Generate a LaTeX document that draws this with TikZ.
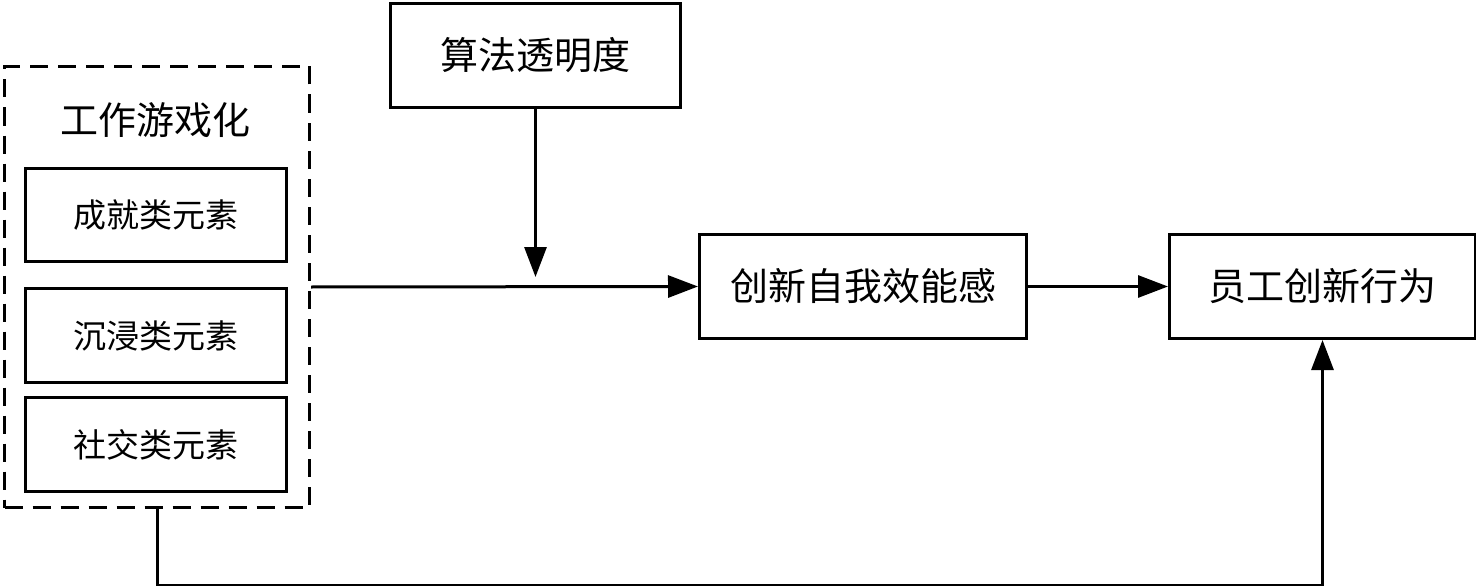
\documentclass[tikz,border=0pt]{standalone}
\usepackage{fontspec}
\setmainfont{Noto Sans CJK SC}
\usetikzlibrary{arrows.meta}
\begin{document}
\begin{tikzpicture}[x=1pt,y=-1pt,
  box/.style={draw,line width=3pt,inner sep=0pt,anchor=north west},
  conn/.style={line width=3pt,-{Triangle[length=30pt,width=22pt]}},
  bigtext/.style={font=\fontsize{38}{42}\selectfont},
  smalltext/.style={font=\fontsize{33}{38}\selectfont}]
\useasboundingbox (0,0) rectangle (1476,586);
% dashed group
\node[box,dashed,dash pattern=on 18pt off 10pt,minimum width=305pt,minimum height=441pt] (grp) at (3,65) {};
\node[bigtext] (title) at (155,120) {工作游戏化};
\node[box,minimum width=261pt,minimum height=93pt] (e1) at (24,167) {};
\node[smalltext] at (e1.center) {成就类元素};
\node[box,minimum width=261pt,minimum height=94pt] (e2) at (24,287) {};
\node[smalltext] at (e2.center) {沉浸类元素};
\node[box,minimum width=261pt,minimum height=94pt] (e3) at (24,396) {};
\node[smalltext] at (e3.center) {社交类元素};
% other boxes
\node[box,minimum width=290pt,minimum height=104pt] (alg) at (389,2) {};
\node[bigtext] at (alg.center) {算法透明度};
\node[box,minimum width=327pt,minimum height=104pt] (se) at (698,233) {};
\node[bigtext] at (se.center) {创新自我效能感};
\node[box,minimum width=306pt,minimum height=104pt] (ib) at (1168,233) {};
\node[bigtext] at (ib.center) {员工创新行为};
% connectors
\coordinate (mod) at (alg.south |- 0,277);
\draw[conn] (alg.south) -- (mod);
\draw[conn] (grp.east) -- (se.west);
\draw[conn] (se.east) -- (ib.west);
\draw[conn] (grp.south) -- ++(0,76) -| (ib.south);
\end{tikzpicture}
\end{document}
